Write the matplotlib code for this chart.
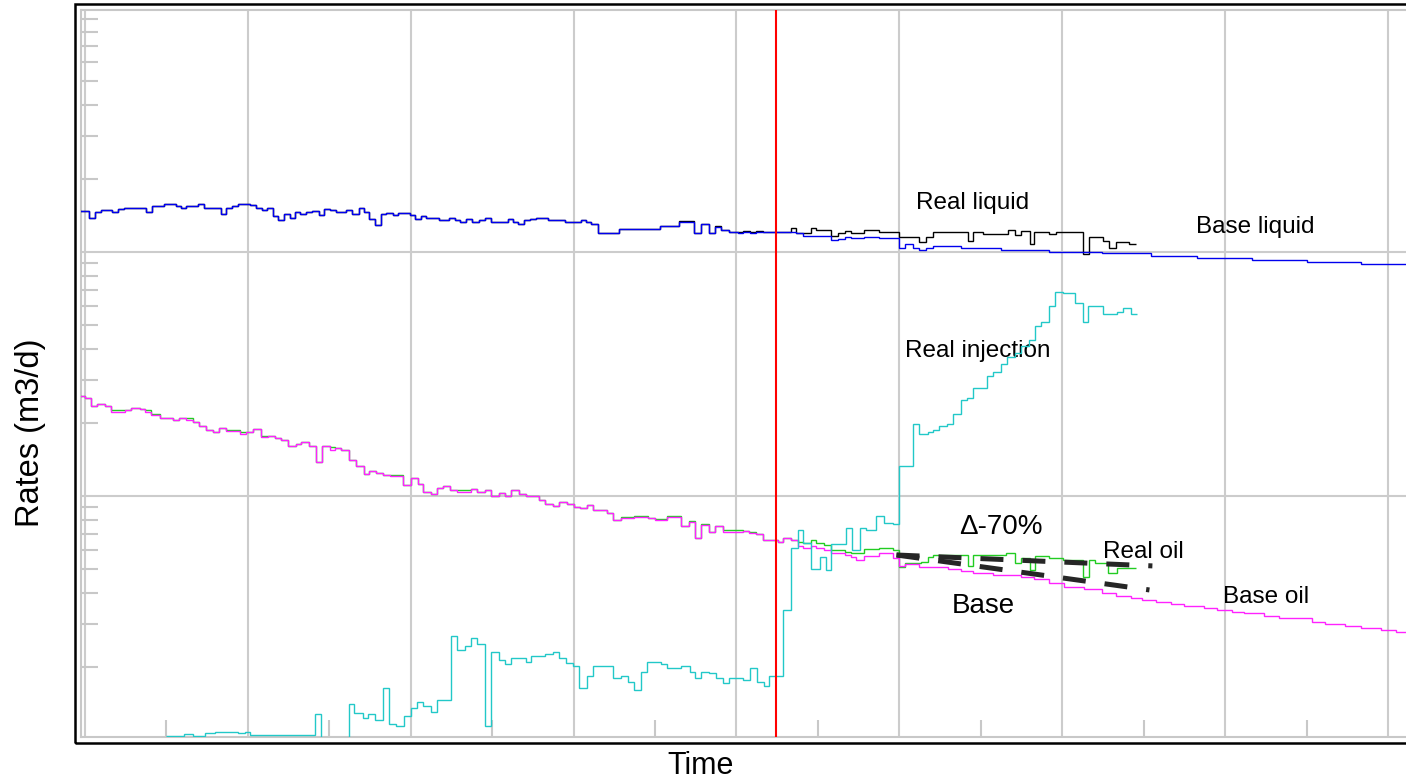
import matplotlib
matplotlib.use("Agg")
import matplotlib.pyplot as plt
from matplotlib.patches import Rectangle
from matplotlib.ticker import MultipleLocator, LogLocator, NullFormatter

plt.rcParams['font.family'] = ['Liberation Sans', 'DejaVu Sans']

# ---- production data: time in years, rates in m3/d (step start times) ----
base_liquid_t = [-0.031, 0.026, 0.061, 0.102, 0.167, 0.204, 0.239, 0.379, 0.413, 0.485,
                 0.563, 0.589, 0.620, 0.695, 0.732, 0.839, 0.869, 0.906, 0.940, 1.012,
                 1.053, 1.086, 1.118, 1.155, 1.188, 1.221, 1.258, 1.290, 1.323, 1.360,
                 1.394, 1.437, 1.468, 1.503, 1.540, 1.606, 1.642, 1.683, 1.712, 1.748,
                 1.785, 1.820, 1.851, 1.891, 1.922, 1.994, 2.025, 2.066, 2.096, 2.174,
                 2.239, 2.270, 2.305, 2.342, 2.379, 2.419, 2.454, 2.495, 2.597, 2.628,
                 2.658, 2.699, 2.730, 2.771, 2.842, 2.945, 3.047, 3.078, 3.109, 3.149,
                 3.282, 3.528, 3.650, 3.742, 3.783, 3.834, 3.871, 3.906, 3.957, 4.008,
                 4.043, 4.080, 4.121, 4.161, 4.366, 4.411, 4.581, 4.622, 4.663, 4.704,
                 4.785, 4.877, 4.996, 5.037, 5.082, 5.123, 5.164, 5.204, 5.379, 5.624,
                 5.920, 6.245, 6.546, 6.828, 7.166, 7.503, 7.834]
base_liquid_v = [147.7, 137.8, 145.4, 148.6, 145.9, 149.6, 152.0, 145.9, 154.8, 157.3,
                 154.8, 151.4, 154.8, 157.3, 152.0, 143.6, 152.0, 154.8, 157.3, 155.4,
                 152.0, 148.6, 152.0, 140.9, 135.7, 143.2, 138.2, 146.3, 143.6, 145.4,
                 147.2, 141.4, 150.1, 148.6, 146.3, 148.6, 143.6, 152.0, 146.3, 136.2,
                 128.7, 143.6, 144.1, 141.4, 144.1, 141.8, 136.2, 140.5, 137.8, 135.7,
                 137.8, 135.7, 133.1, 136.2, 133.1, 135.7, 137.8, 133.1, 136.2, 133.1,
                 130.6, 134.9, 136.5, 137.8, 135.2, 132.7, 134.9, 132.7, 130.6, 119.3,
                 124.3, 127.8, 133.1, 119.3, 129.9, 119.3, 126.3, 123.1, 120.4, 119.3,
                 120.4, 119.3, 120.4, 121.1, 119.3, 116.3, 112.0, 113.4, 115.5, 114.5,
                 115.5, 113.8, 103.5, 107.5, 103.5, 101.6, 103.5, 105.5, 103.5, 101.9,
                 100.0, 98.8, 96.6, 94.5, 92.7, 91.0, 89.3]

real_liquid_t = [3.650, 3.742, 3.783, 3.834, 3.871, 3.906, 3.957, 4.008, 4.043, 4.080,
                 4.121, 4.161, 4.336, 4.366, 4.411, 4.458, 4.489, 4.581, 4.622, 4.663,
                 4.704, 4.785, 4.877, 4.996, 5.123, 5.164, 5.204, 5.419, 5.450, 5.511,
                 5.664, 5.706, 5.747, 5.798, 5.824, 5.920, 5.961, 6.125, 6.161, 6.247,
                 6.288, 6.330, 6.411]
real_liquid_v = [134.4, 119.3, 130.2, 119.3, 127.8, 123.1, 120.4, 121.1, 122.3, 120.4,
                 122.3, 121.1, 125.1, 119.9, 119.3, 125.1, 123.1, 116.3, 119.3, 122.3,
                 119.3, 123.1, 121.1, 115.5, 109.9, 114.9, 120.4, 111.3, 120.4, 118.2,
                 123.1, 117.4, 122.3, 107.8, 120.4, 118.2, 120.4, 98.1, 115.5, 111.3,
                 103.5, 109.9, 107.8]

oil_hist_t = [-0.031, 0.000, 0.041, 0.075, 0.123, 0.164, 0.245, 0.287, 0.337, 0.368,
              0.409, 0.460, 0.542, 0.579, 0.620, 0.664, 0.701, 0.742, 0.787, 0.824,
              0.869, 0.951, 0.992, 1.033, 1.084, 1.125, 1.166, 1.207, 1.247, 1.299,
              1.329, 1.376, 1.417, 1.456, 1.503, 1.534, 1.575, 1.621, 1.663, 1.712,
              1.748, 1.790, 1.830, 1.871, 1.953, 2.004, 2.045, 2.075, 2.127, 2.161,
              2.198, 2.244, 2.284, 2.372, 2.407, 2.454, 2.495, 2.542, 2.577, 2.618,
              2.664, 2.706, 2.787, 2.828, 2.873, 2.914, 2.959, 3.000, 3.041, 3.082,
              3.118, 3.204, 3.241, 3.293, 3.374, 3.415, 3.456, 3.503, 3.572, 3.661,
              3.706, 3.747, 3.783, 3.830, 3.869, 3.916, 4.039, 4.075, 4.121, 4.161,
              4.253, 4.284, 4.336]
base_oil_hist_v = [25.70, 25.15, 23.45, 23.83, 23.45, 22.16, 22.52, 22.95, 22.73, 22.16,
                   21.48, 20.94, 20.55, 20.94, 20.55, 20.05, 19.31, 18.70, 18.30, 19.06,
                   18.47, 18.01, 18.35, 18.77, 17.40, 17.62, 17.24, 16.96, 15.99, 16.29,
                   16.65, 16.03, 13.79, 16.03, 15.48, 15.69, 15.39, 14.05, 13.31, 12.27,
                   12.66, 12.39, 12.19, 12.11, 11.13, 11.85, 11.23, 10.35, 10.16, 10.75,
                   11.02, 10.58, 10.41, 10.65, 10.41, 10.58, 10.00, 10.32, 10.00, 10.58,
                   10.19, 10.00, 9.63, 9.27, 9.10, 9.45, 9.25, 9.04, 8.90, 9.19,
                   8.76, 8.49, 7.97, 8.10, 8.18, 8.23, 8.10, 7.97, 8.18, 7.53,
                   7.83, 6.75, 7.61, 7.10, 7.55, 7.14, 7.19, 7.03, 6.99, 6.60,
                   6.48, 6.71, 6.60]
real_oil_hist_v = [25.70, 25.15, 23.45, 23.83, 23.45, 22.52, 22.52, 22.95, 22.73, 22.52,
                   21.68, 20.94, 20.55, 20.94, 20.82, 20.05, 19.31, 18.70, 18.30, 19.06,
                   18.70, 18.35, 18.35, 18.77, 17.62, 17.62, 17.24, 16.96, 15.99, 16.29,
                   16.65, 16.03, 13.79, 16.03, 15.83, 15.69, 15.39, 14.05, 13.31, 12.27,
                   12.66, 12.39, 12.19, 12.19, 11.13, 11.85, 11.23, 10.35, 10.16, 10.75,
                   11.02, 10.58, 10.55, 10.65, 10.41, 10.58, 10.00, 10.32, 10.00, 10.58,
                   10.19, 10.00, 9.63, 9.27, 9.10, 9.45, 9.25, 9.04, 8.90, 9.19,
                   8.76, 8.49, 7.97, 8.23, 8.30, 8.30, 8.10, 8.07, 8.28, 7.53,
                   7.90, 6.75, 7.70, 7.10, 7.55, 7.26, 7.19, 7.12, 6.99, 6.60,
                   6.48, 6.71, 6.60]

base_oil_fc_t = [4.376, 4.407, 4.458, 4.489, 4.540, 4.581, 4.663, 4.704, 4.734, 4.785,
                 4.877, 4.959, 5.000, 5.031, 5.123, 5.174, 5.296, 5.379, 5.450, 5.572,
                 5.747, 5.828, 5.920, 6.012, 6.135, 6.245, 6.331, 6.423, 6.491, 6.577,
                 6.669, 6.748, 6.871, 6.951, 7.043, 7.117, 7.239, 7.331, 7.534, 7.613,
                 7.736, 7.834, 7.957, 8.049]
base_oil_fc_v = [6.24, 6.11, 6.26, 6.11, 6.01, 5.86, 5.73, 5.61, 5.47, 5.68,
                 5.82, 5.56, 5.17, 5.25, 5.13, 5.10, 5.02, 4.94, 4.85, 4.75,
                 4.67, 4.57, 4.41, 4.23, 4.15, 3.99, 3.89, 3.81, 3.75, 3.67,
                 3.60, 3.54, 3.47, 3.41, 3.36, 3.31, 3.23, 3.15, 3.05, 2.99,
                 2.94, 2.89, 2.82, 2.78]

real_oil_fc_t = [4.376, 4.407, 4.458, 4.489, 4.540, 4.581, 4.663, 4.704, 4.785, 4.877,
                 4.959, 5.000, 5.031, 5.133, 5.174, 5.204, 5.419, 5.450, 5.655, 5.706,
                 5.747, 5.798, 5.834, 5.920, 6.002, 6.125, 6.161, 6.202, 6.278, 6.333]
real_oil_fc_v = [6.48, 6.40, 6.60, 6.40, 6.28, 6.01, 5.91, 5.82, 6.05, 6.11,
                 6.01, 5.13, 5.33, 5.38, 5.64, 5.73, 5.17, 5.73, 5.82, 5.30,
                 5.56, 4.97, 5.68, 5.56, 5.47, 4.64, 5.47, 5.33, 4.85, 5.08]

injection_t = [0.497, 0.613, 0.663, 0.736, 0.798, 0.939, 0.982, 1.012, 1.411, 1.452,
               1.621, 1.656, 1.707, 1.738, 1.785, 1.830, 1.867, 1.912, 1.957, 2.000,
               2.039, 2.075, 2.127, 2.161, 2.250, 2.284, 2.337, 2.372, 2.409, 2.458,
               2.491, 2.542, 2.581, 2.618, 2.706, 2.740, 2.828, 2.873, 2.910, 2.955,
               2.996, 3.033, 3.082, 3.118, 3.241, 3.293, 3.333, 3.374, 3.415, 3.452,
               3.538, 3.575, 3.661, 3.712, 3.748, 3.783, 3.830, 3.875, 3.920, 3.957,
               4.039, 4.080, 4.125, 4.166, 4.198, 4.284, 4.336, 4.376, 4.407, 4.458,
               4.515, 4.550, 4.581, 4.673, 4.707, 4.755, 4.796, 4.857, 4.908, 4.959,
               5.000, 5.082, 5.119, 5.174, 5.204, 5.245, 5.290, 5.327, 5.379, 5.413,
               5.450, 5.536, 5.573, 5.624, 5.658, 5.706, 5.747, 5.793, 5.833, 5.869,
               5.920, 5.955, 6.002, 6.078, 6.125, 6.160, 6.247, 6.333, 6.370, 6.421]
injection_v = [1.038, 1.058, 1.040, 1.071, 1.081, 1.065, 1.081, 1.045, 1.274, 1.0,
               1.405, 1.286, 1.234, 1.278, 1.211, 1.633, 1.166, 1.141, 1.254, 1.356,
               1.436, 1.382, 1.306, 1.458, 2.669, 2.338, 2.435, 2.611, 2.474, 1.141,
               2.288, 2.127, 2.048, 2.175, 2.088, 2.216, 2.252, 2.295, 2.175, 2.062,
               2.016, 1.638, 1.829, 2.016, 1.800, 1.835, 1.734, 1.603, 1.900, 2.094,
               2.055, 1.979, 2.016, 1.900, 1.800, 1.905, 1.877, 1.800, 1.708, 1.790,
               1.762, 1.979, 1.734, 1.670, 1.835, 3.410, 6.11, 7.26, 6.40, 5.01,
               5.64, 4.97, 6.36, 7.37, 6.01, 7.37, 7.26, 8.28, 7.78, 7.68,
               13.27, 19.73, 17.95, 18.24, 18.64, 19.42, 19.73, 21.68, 24.67, 25.21,
               27.79, 30.95, 32.23, 34.65, 37.23, 38.66, 41.19, 43.60, 49.74, 51.80,
               60.08, 68.56, 67.72, 61.63, 51.80, 60.25, 55.70, 56.60, 58.96, 55.70]

forecast_end = 8.2
real_end = 6.452
injection_end = 6.456
start_of_change = 4.245

# straight-line trends drawn from the change date (t, rate)
trend_real_t = [4.982, 6.552]
trend_real_v = [5.73, 5.17]
trend_base_t = [4.982, 6.534]
trend_base_v = [5.73, 4.12]

# ---- figure ----
W, H = 1406, 784
fig = plt.figure(figsize=(W / 100, H / 100), dpi=100)
ax = fig.add_axes([81 / W, 1 - 737 / H, (1412 - 81) / W, (737 - 10) / H])
ax.set_yscale('log')
ax.set_xlim(-0.022, 8.145)
ax.set_ylim(1.0287, 981.0)

grey = '#c8c8c8'
ax.xaxis.set_major_locator(MultipleLocator(1))
ax.xaxis.set_minor_locator(MultipleLocator(0.5))
ax.yaxis.set_major_locator(LogLocator(base=10, numticks=10))
ax.yaxis.set_minor_locator(LogLocator(base=10, subs=range(2, 10), numticks=20))
ax.xaxis.set_minor_formatter(NullFormatter())
ax.yaxis.set_minor_formatter(NullFormatter())
ax.tick_params(which='major', length=0, labelleft=False, labelbottom=False)
ax.tick_params(which='minor', direction='in', length=12, width=1.5, color=grey)
ax.grid(which='major', color='#cccccc', lw=1.5)
for s in ax.spines.values():
    s.set_color(grey)
    s.set_linewidth(1.5)

lw = 1.0
# liquid
hist_n = sum(1 for t in base_liquid_t if t < real_liquid_t[0])
rl_edges = base_liquid_t[:hist_n] + real_liquid_t + [real_end]
rl_vals = base_liquid_v[:hist_n] + real_liquid_v
ax.stairs(rl_vals, rl_edges, baseline=None, color='black', lw=lw, zorder=3)
ax.stairs(base_liquid_v, base_liquid_t + [forecast_end], baseline=None,
          color='#0000ee', lw=lw, zorder=4)

# oil
ax.stairs(real_oil_hist_v + real_oil_fc_v, oil_hist_t + real_oil_fc_t + [real_end],
          baseline=None, color='#22cc22', lw=lw, zorder=3)
ax.stairs(base_oil_hist_v + base_oil_fc_v, oil_hist_t + base_oil_fc_t + [forecast_end],
          baseline=None, color='#ff22ff', lw=lw, zorder=4)

# injection
ax.stairs(injection_v, injection_t + [injection_end], baseline=None,
          color='#22c8c8', lw=lw, zorder=5)

ax.axvline(start_of_change, color='#ff0000', lw=1.5, zorder=6)

dash = (0, (4.6, 3.8))
ax.plot(trend_real_t, trend_real_v, color='#262626', lw=3.6, ls=dash, zorder=7)
ax.plot(trend_base_t, trend_base_v, color='#262626', lw=3.6, ls=dash, zorder=7)

fs = 17.5
ax.text(5.102, 150.1, 'Real liquid', fontsize=fs, va='baseline', ha='left')
ax.text(6.820, 119.7, 'Base liquid', fontsize=fs, va='baseline', ha='left')
ax.text(5.037, 37.2, 'Real injection', fontsize=fs, va='baseline', ha='left')
ax.text(5.368, 6.99, '\u0394-70%', fontsize=20, va='baseline', ha='left')
ax.text(6.252, 5.55, 'Real oil', fontsize=fs, va='baseline', ha='left')
ax.text(5.323, 3.31, 'Base', fontsize=20, va='baseline', ha='left')
ax.text(6.984, 3.63, 'Base oil', fontsize=fs, va='baseline', ha='left')

fig.text(701 / W, 1 - 766 / H, 'Time', fontsize=22, ha='center', va='center')
fig.text(31 / W, 1 - 433 / H, 'Rates (m3/d)', fontsize=23.5, ha='center', va='center',
         rotation=90)

fig.add_artist(Rectangle((75 / W, 1 - 743 / H), 1.0, (743 - 3.5) / H,
                         transform=fig.transFigure, fill=False, ec='black', lw=1.8))

fig.savefig('out.png', dpi=100)
